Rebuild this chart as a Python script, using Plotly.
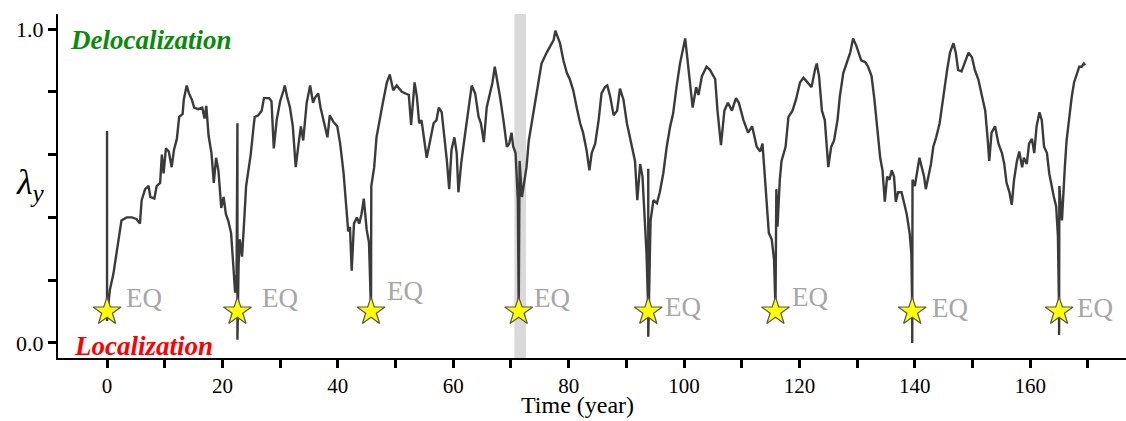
import plotly.graph_objects as go

# time series (years) and lambda_y values
t = [0, 0, 0.2, 0.5, 1.1, 1.7, 2.1, 2.5, 3.4, 4.3, 5.1, 5.7, 6.0, 6.6, 7.2, 7.5, 8.2, 8.6, 9.2, 9.5, 9.8,
     10.2, 10.7, 11.2, 11.6, 12.1, 12.5, 13.1, 13.3, 13.8, 14.2, 14.7, 15.1, 15.8, 16.5, 16.9, 17.2, 17.6,
     18.1, 18.5, 18.9, 19.3, 19.8, 20.2, 20.6, 21.0, 21.5, 21.9, 22.2, 22.45, 22.6, 22.6, 22.8, 23.0, 23.4,
     23.8, 24.1, 24.5, 24.9, 25.4, 25.6, 26.2, 26.8, 27.2, 28.1, 28.5, 28.9, 29.4, 30.0, 30.6, 30.8, 31.2,
     31.7, 32.2, 32.7, 33.2, 33.6, 34.0, 34.6, 35.2, 35.7, 36.0, 36.6, 37.0, 37.6, 38.2, 38.6, 39.2, 39.9,
     40.4, 41.0, 41.4, 41.8, 42.1, 42.4, 42.8, 43.3, 43.7, 44.1, 44.5, 45.0, 45.4, 45.75, 45.8, 46.3, 46.7,
     47.2, 47.8, 48.5, 49.0, 49.6, 50.2, 51.1, 51.6, 52.3, 52.7, 53.3, 53.7, 54.1, 54.5, 54.8, 55.4, 56.0,
     56.6, 57.1, 57.5, 58.0, 58.5, 58.9, 59.3, 59.7, 60.2, 60.6, 60.9, 61.4, 61.9, 62.5, 63.2, 63.8, 64.4,
     64.8, 65.3, 65.8, 66.4, 66.8, 67.2, 67.5, 68.1, 68.7, 69.3, 69.7, 70.1, 70.4, 70.8, 71.2, 71.35, 71.5,
     71.9, 72.2, 72.7, 73.1, 73.6, 74.2, 74.8, 75.3, 76.2, 76.8, 77.4, 77.7, 78.5, 79.1, 79.7, 80.2, 80.8,
     81.4, 82.0, 82.5, 83.1, 83.6, 84.0, 84.6, 85.2, 85.7, 86.3, 86.7, 87.2, 87.8, 88.4, 88.9, 89.5, 90.1,
     90.6, 91.1, 91.5, 91.9, 92.4, 92.8, 93.2, 93.5, 93.8, 93.8, 93.8, 94.2, 94.7, 95.3, 95.8, 96.4, 97.0,
     97.6, 98.1, 98.7, 99.3, 100.2, 100.7, 101.2, 101.5, 102.1, 102.5, 103.1, 103.9, 104.5, 105.4, 105.8,
     106.4, 107.0, 107.6, 108.3, 109.0, 109.5, 110.3, 111.1, 111.8, 112.6, 113.2, 113.6, 113.9, 114.3,
     114.7, 115.2, 115.6, 115.85, 116.0, 116.2, 116.6, 116.9, 117.6, 118.1, 118.8, 119.4, 120.1, 120.7,
     121.4, 122.1, 122.7, 123.0, 123.4, 123.9, 124.4, 124.7, 125.0, 125.5, 126.0, 126.6, 127.0, 127.6,
     128.2, 128.8, 129.3, 129.9, 130.7, 131.4, 131.9, 132.5, 133.0, 133.5, 134.0, 134.4, 134.8, 135.2,
     135.6, 136.0, 136.4, 136.7, 137.1, 137.7, 138.1, 138.6, 139.1, 139.4, 139.55, 139.55, 139.6, 140.0,
     140.4, 140.8, 141.2, 141.6, 141.9, 142.3, 142.8, 143.2, 143.7, 144.3, 144.8, 145.2, 145.6, 146.1,
     146.7, 147.1, 147.5, 148.1, 148.7, 149.3, 149.9, 150.4, 151.0, 151.6, 152.2, 152.6, 152.9, 153.3,
     153.9, 154.5, 155.1, 155.5, 155.9, 156.4, 156.8, 157.2, 157.7, 158.1, 158.6, 158.9, 159.4, 159.8,
     160.3, 160.7, 161.1, 161.6, 162.0, 162.4, 162.9, 163.3, 163.7, 164.1, 164.5, 164.8, 165.0, 165.0,
     165.05, 165.5, 165.7, 166.0, 166.3, 166.7, 167.2, 167.6, 168.1, 168.5, 168.9, 169.3, 169.5]

lam = [0.675, 0.07, 0.12, 0.17, 0.22, 0.29, 0.35, 0.39, 0.40, 0.40, 0.395, 0.38, 0.455, 0.49, 0.50, 0.465,
       0.46, 0.50, 0.51, 0.60, 0.54, 0.62, 0.61, 0.56, 0.615, 0.65, 0.72, 0.73, 0.775, 0.82, 0.795, 0.775,
       0.75, 0.745, 0.75, 0.715, 0.755, 0.66, 0.605, 0.51, 0.59, 0.55, 0.43, 0.465, 0.41, 0.39, 0.35, 0.22,
       0.16, 0.22, 0.70, 0.01, 0.25, 0.33, 0.275, 0.40, 0.50, 0.55, 0.60, 0.69, 0.72, 0.725, 0.74, 0.78,
       0.78, 0.77, 0.62, 0.71, 0.77, 0.805, 0.82, 0.785, 0.75, 0.69, 0.56, 0.635, 0.69, 0.645, 0.765, 0.82,
       0.765, 0.78, 0.795, 0.75, 0.70, 0.655, 0.725, 0.705, 0.69, 0.635, 0.54, 0.455, 0.355, 0.37, 0.23,
       0.38, 0.40, 0.38, 0.41, 0.46, 0.36, 0.32, 0.10, 0.50, 0.56, 0.655, 0.71, 0.765, 0.83, 0.855, 0.805,
       0.82, 0.80, 0.795, 0.79, 0.695, 0.83, 0.785, 0.70, 0.71, 0.67, 0.59, 0.645, 0.70, 0.71, 0.75, 0.735,
       0.655, 0.58, 0.49, 0.615, 0.655, 0.605, 0.48, 0.575, 0.645, 0.73, 0.82, 0.795, 0.72, 0.70, 0.64,
       0.75, 0.805, 0.83, 0.88, 0.85, 0.785, 0.71, 0.625, 0.635, 0.67, 0.625, 0.605, 0.455, 0.10, 0.58,
       0.465, 0.50, 0.56, 0.645, 0.70, 0.775, 0.84, 0.89, 0.925, 0.945, 0.965, 0.995, 0.955, 0.90, 0.86,
       0.84, 0.805, 0.75, 0.70, 0.67, 0.615, 0.55, 0.605, 0.635, 0.71, 0.795, 0.815, 0.82, 0.785, 0.725,
       0.74, 0.81, 0.775, 0.70, 0.655, 0.615, 0.58, 0.455, 0.57, 0.53, 0.41, 0.285, 0.10, 0.555, 0.02,
       0.39, 0.455, 0.445, 0.48, 0.54, 0.625, 0.69, 0.73, 0.815, 0.89, 0.97, 0.89, 0.815, 0.75, 0.815,
       0.79, 0.85, 0.88, 0.87, 0.84, 0.74, 0.63, 0.74, 0.765, 0.74, 0.78, 0.765, 0.71, 0.67, 0.69, 0.625,
       0.61, 0.635, 0.56, 0.465, 0.35, 0.33, 0.265, 0.11, 0.49, 0.37, 0.52, 0.58, 0.625, 0.72, 0.74, 0.775,
       0.83, 0.845, 0.83, 0.815, 0.87, 0.89, 0.85, 0.74, 0.71, 0.645, 0.56, 0.625, 0.645, 0.71, 0.785,
       0.86, 0.89, 0.925, 0.97, 0.945, 0.90, 0.895, 0.88, 0.85, 0.775, 0.68, 0.59, 0.55, 0.45, 0.53, 0.52,
       0.55, 0.53, 0.45, 0.48, 0.48, 0.445, 0.41, 0.35, 0.285, 0.10, 0.0, 0.52, 0.50, 0.55, 0.59, 0.56,
       0.53, 0.49, 0.53, 0.57, 0.625, 0.655, 0.70, 0.765, 0.83, 0.87, 0.925, 0.955, 0.925, 0.87, 0.865,
       0.895, 0.925, 0.91, 0.87, 0.84, 0.795, 0.74, 0.655, 0.58, 0.67, 0.69, 0.635, 0.605, 0.57, 0.51,
       0.48, 0.44, 0.52, 0.58, 0.61, 0.56, 0.59, 0.57, 0.635, 0.65, 0.605, 0.69, 0.735, 0.71, 0.625, 0.605,
       0.54, 0.50, 0.465, 0.435, 0.34, 0.10, 0.025, 0.50, 0.39, 0.48, 0.56, 0.645, 0.71, 0.785, 0.83, 0.86,
       0.88, 0.88, 0.89, 0.885]

# earthquake times and star level
eq_times = [0, 22.6, 45.75, 71.35, 93.8, 115.85, 139.55, 165.0]
eq_level = [0.1] * len(eq_times)
eq_label_x = [2.95, 26.5, 48.2, 73.7, 96.4, 118.4, 142.6, 167.8]
eq_label_y = [0.143, 0.143, 0.166, 0.143, 0.115, 0.146, 0.111, 0.111]

# shaded window
band = [70.6, 72.6]

x_ticks = list(range(0, 171, 10))
x_ticktext = [str(v) if v % 20 == 0 else " " for v in x_ticks]
y_ticks = [0.0, 0.2, 0.4, 0.6, 0.8, 1.0]
y_ticktext = ["0.0", " ", " ", " ", " ", "1.0"]

SERIF = "Liberation Serif"

fig = go.Figure()
fig.add_shape(type="rect", xref="x", yref="paper", x0=band[0], x1=band[1], y0=0, y1=1,
              fillcolor="#d9d9d9", line_width=0, layer="below")
fig.add_trace(go.Scatter(x=t, y=lam, mode="lines", line=dict(color="#3b3b3b", width=2.4),
                         hoverinfo="skip", showlegend=False))
fig.add_trace(go.Scatter(x=eq_times, y=eq_level, mode="markers",
                         marker=dict(symbol="star", size=21, color="#ffff00",
                                     line=dict(color="#555555", width=1.2)),
                         showlegend=False))
for lx, ly in zip(eq_label_x, eq_label_y):
    fig.add_annotation(x=lx, y=ly, text="EQ", showarrow=False, xanchor="left", yanchor="middle",
                       font=dict(family=SERIF, size=27, color="#a6a6a6"))

fig.add_annotation(x=-6.76, y=0.965, text="<b><i>Delocalization</i></b>", showarrow=False,
                   xanchor="left", yanchor="middle", font=dict(family=SERIF, size=27, color="#0a8a0a"))
fig.add_annotation(x=-6.07, y=-0.01, text="<b><i>Localization</i></b>", showarrow=False,
                   xanchor="left", yanchor="middle", font=dict(family=SERIF, size=27, color="#ff0000"))
fig.add_annotation(xref="x", yref="paper", x=81.6, y=-0.137, text="Time (year)", showarrow=False,
                   xanchor="center", yanchor="middle", borderpad=0,
                   font=dict(family=SERIF, size=24, color="black"))
fig.add_annotation(xref="paper", yref="paper", x=-0.0262, y=0.503, text="<i>λ</i><sub><i>y</i></sub>",
                   showarrow=False, xanchor="center", yanchor="middle",
                   font=dict(family=SERIF, size=36, color="black"))

fig.update_xaxes(range=[-8.5, 176.6], tickvals=x_ticks, ticktext=x_ticktext, ticks="outside",
                 ticklen=8, tickwidth=3, tickcolor="black", showline=True, linecolor="black",
                 linewidth=2, showgrid=False, zeroline=False,
                 tickfont=dict(family=SERIF, size=21, color="black"))
fig.update_yaxes(range=[-0.048, 1.048], tickvals=y_ticks, ticktext=y_ticktext, ticks="outside",
                 ticklen=8, tickwidth=3, tickcolor="black", showline=True, linecolor="black",
                 linewidth=2, showgrid=False, zeroline=False,
                 tickfont=dict(family=SERIF, size=22, color="black"))
fig.update_layout(width=1126, height=421, margin=dict(l=58, r=0, t=14, b=63),
                  paper_bgcolor="white", plot_bgcolor="white")

fig.write_html("out.html")
